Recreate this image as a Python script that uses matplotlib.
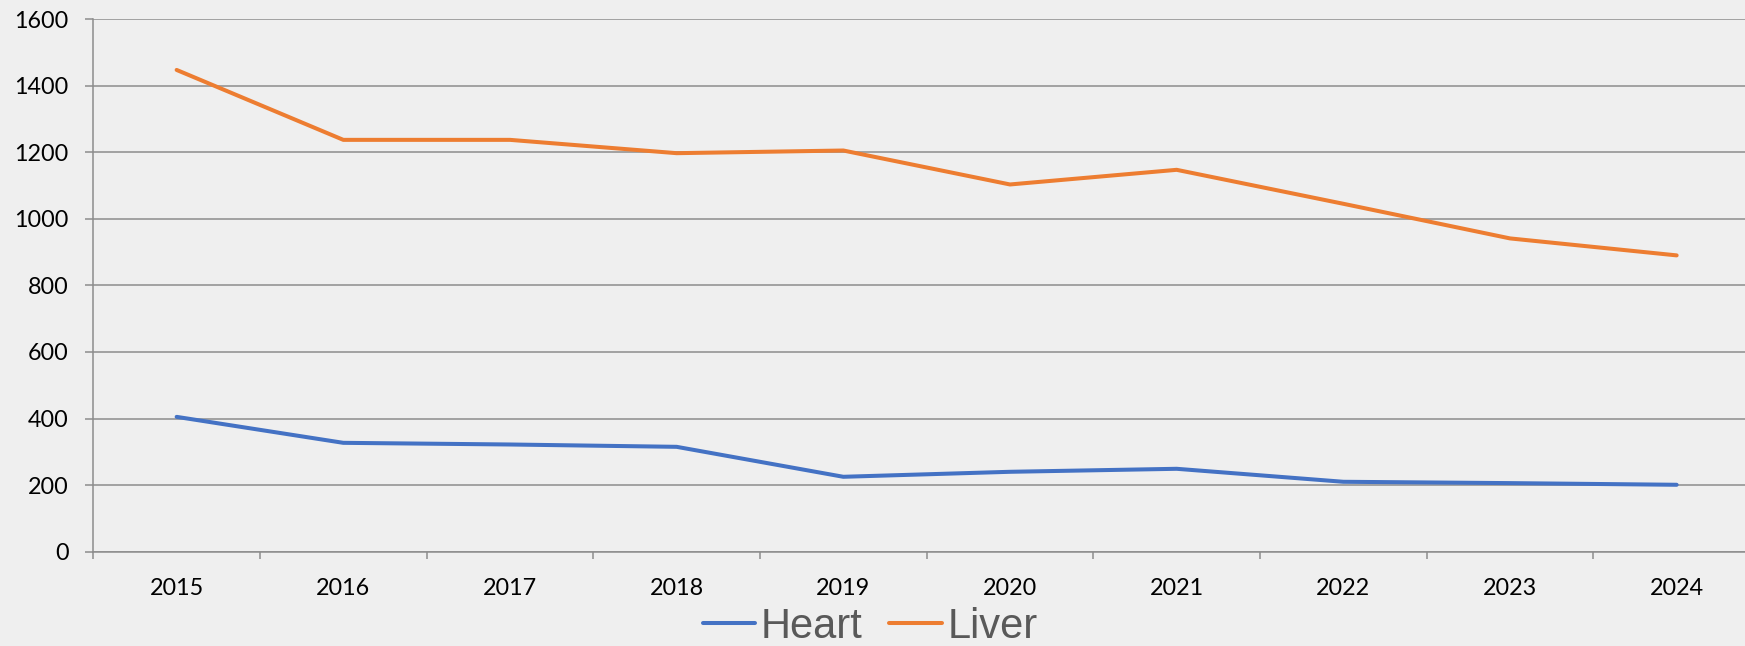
import matplotlib
matplotlib.use("Agg")
import matplotlib.pyplot as plt
import numpy as np

years = ["2015", "2016", "2017", "2018", "2019", "2020", "2021", "2022", "2023", "2024"]
heart = [405, 327, 322, 315, 225, 240, 249, 210, 206, 201]
liver = [1447, 1237, 1237, 1197, 1205, 1103, 1147, 1045, 941, 890]
yticks = [0, 200, 400, 600, 800, 1000, 1200, 1400, 1600]

W, H = 1745, 646
fig = plt.figure(figsize=(W / 100, H / 100), dpi=100)
bg = "#efefef"
fig.patch.set_facecolor(bg)

left = 93.3 / W
right = 1760 / W
bottom = 1 - 551.7 / H
top = 1 - 19 / H
ax = fig.add_axes([left, bottom, right - left, top - bottom])
ax.set_facecolor(bg)
ax.patch.set_alpha(0)

x = np.arange(len(years))
ax.plot(x, heart, color="#4472C4", lw=2.9, solid_capstyle="round", solid_joinstyle="round", label="Heart", zorder=3)
ax.plot(x, liver, color="#ED7D31", lw=2.9, solid_capstyle="round", solid_joinstyle="round", label="Liver", zorder=3)

ax.set_xlim(-0.5, len(years) - 0.5)
ax.set_ylim(0, 1600)
ax.set_yticks(yticks)
ax.set_yticklabels([str(v) for v in yticks])
ax.set_xticks(x)
ax.set_xticklabels(years)
ax.set_xticks(np.arange(-0.5, len(years) + 0.5, 1), minor=True)

gridc = "#8c8c8c"
ax.grid(axis="y", color=gridc, lw=1.1, zorder=1)
ax.set_axisbelow(True)
for s in ["top", "right"]:
    ax.spines[s].set_visible(False)
for s in ["left", "bottom"]:
    ax.spines[s].set_color(gridc)
    ax.spines[s].set_linewidth(1.1)

font = "Lato"
ax.tick_params(axis="y", which="major", length=5.8, width=1.1, color=gridc, pad=12,
               labelsize=16.8, labelcolor="#000000")
ax.tick_params(axis="x", which="major", length=0, pad=19, labelsize=16.8, labelcolor="#000000")
ax.tick_params(axis="x", which="minor", length=5, width=1.1, color=gridc, direction="out")
for lab in ax.get_xticklabels() + ax.get_yticklabels():
    lab.set_fontfamily(font)

leg = fig.legend(loc="center", bbox_to_anchor=(870 / W, 1 - 627 / H), ncol=2, frameon=False,
                 prop={"family": "Liberation Sans", "size": 30}, handlelength=1.27,
                 handletextpad=0.12, columnspacing=0.65, borderpad=0, borderaxespad=0)
for t in leg.get_texts():
    t.set_color("#595959")
for l in leg.get_lines():
    l.set_linewidth(2.9)

fig.savefig("out.png", dpi=100, facecolor=bg)
